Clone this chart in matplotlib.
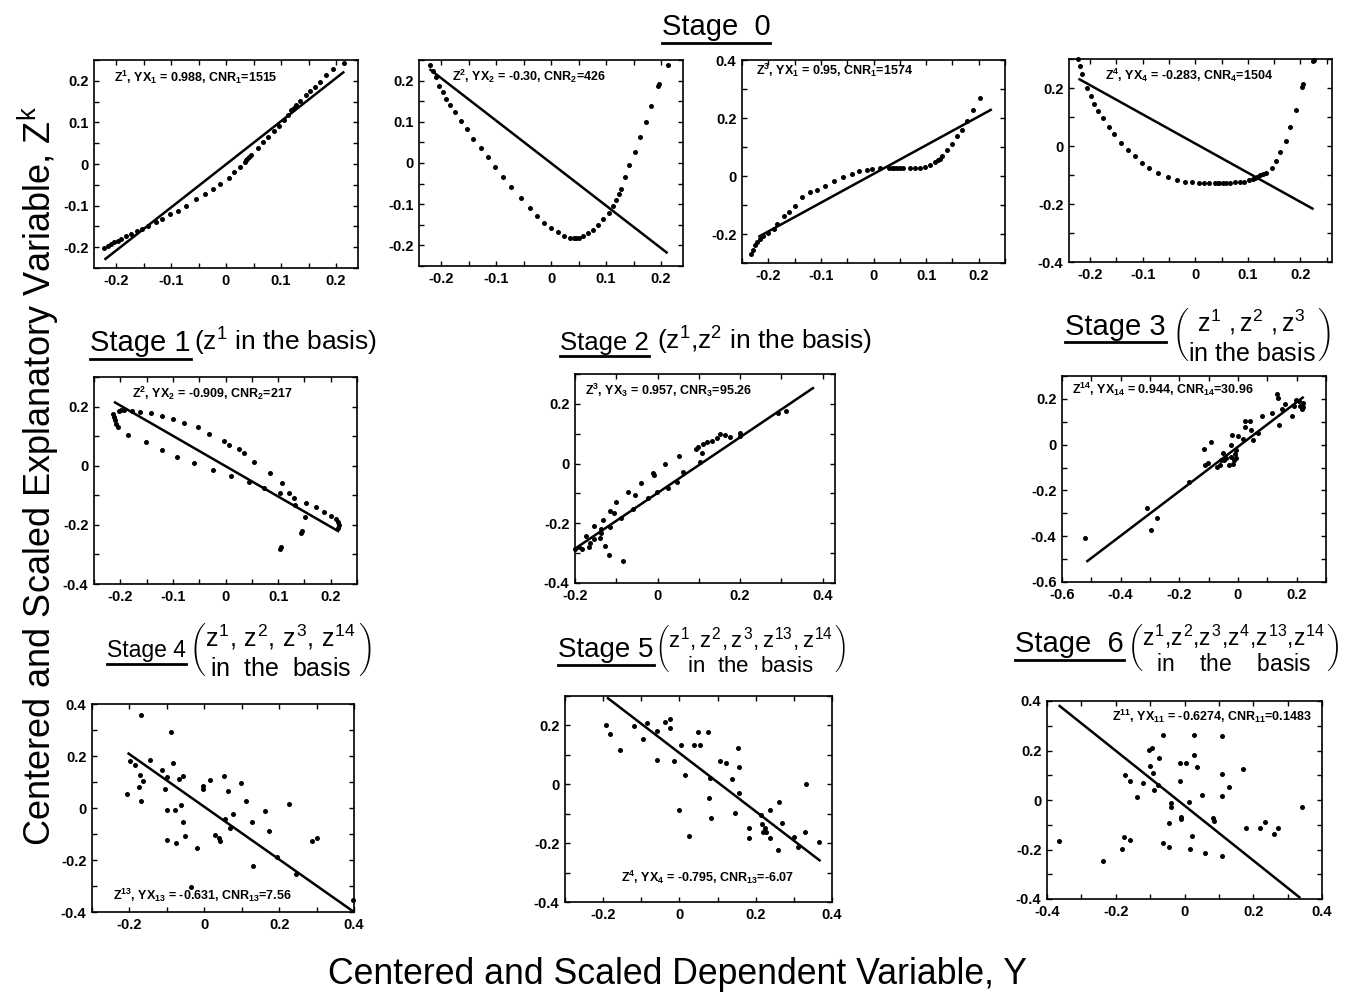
import numpy as np
import matplotlib
matplotlib.use('Agg')
import matplotlib.pyplot as plt
from matplotlib.ticker import MultipleLocator, FuncFormatter
from matplotlib.lines import Line2D

plt.rcParams['font.family'] = ['Liberation Sans', 'DejaVu Sans']
plt.rcParams['mathtext.fontset'] = 'custom'
plt.rcParams['mathtext.rm'] = 'Liberation Sans'
plt.rcParams['mathtext.it'] = 'Liberation Sans'
plt.rcParams['mathtext.bf'] = 'Liberation Sans:bold'
plt.rcParams['axes.unicode_minus'] = False

# ---------------- data ----------------
p1_x = [-0.221,-0.215,-0.209,-0.203,-0.197,-0.191,-0.182,-0.173,-0.162,-0.152,-0.142,-0.128,-0.116,-0.102,-0.088,-0.072,-0.054,-0.039,-0.024,-0.011,0.005,0.014,0.026,0.035,0.036,0.039,0.042,0.045,0.059,0.068,0.077,0.087,0.096,0.105,0.113,0.119,0.122,0.125,0.128,0.134,0.145,0.153,0.161,0.170,0.182,0.195,0.214]
p1_y = [-0.202,-0.196,-0.192,-0.188,-0.184,-0.180,-0.174,-0.169,-0.162,-0.156,-0.148,-0.140,-0.132,-0.121,-0.113,-0.100,-0.085,-0.073,-0.059,-0.047,-0.033,-0.019,-0.007,0.006,0.009,0.013,0.017,0.022,0.039,0.053,0.065,0.079,0.092,0.105,0.117,0.129,0.133,0.137,0.141,0.151,0.165,0.175,0.186,0.196,0.214,0.228,0.242]
p1_lx = [-0.221, 0.215]
p1_ly = [-0.230, 0.222]

p2_x = [-0.220,-0.215,-0.209,-0.203,-0.197,-0.191,-0.184,-0.174,-0.164,-0.153,-0.141,-0.128,-0.115,-0.102,-0.088,-0.072,-0.055,-0.039,-0.025,-0.013,0.000,0.013,0.023,0.035,0.041,0.045,0.050,0.059,0.068,0.077,0.086,0.095,0.105,0.112,0.118,0.123,0.127,0.135,0.142,0.152,0.162,0.172,0.182,0.195,0.196,0.213]
p2_y = [0.238,0.224,0.208,0.188,0.172,0.155,0.141,0.123,0.102,0.082,0.059,0.037,0.015,-0.009,-0.033,-0.059,-0.086,-0.109,-0.128,-0.146,-0.158,-0.168,-0.176,-0.182,-0.183,-0.183,-0.183,-0.178,-0.170,-0.162,-0.150,-0.137,-0.121,-0.105,-0.089,-0.076,-0.063,-0.033,-0.006,0.027,0.062,0.100,0.139,0.188,0.192,0.239]
p2_lx = [-0.221, 0.212]
p2_ly = [0.228, -0.219]

p3_x = [-0.232,-0.229,-0.225,-0.222,-0.216,-0.210,-0.200,-0.190,-0.183,-0.171,-0.160,-0.149,-0.135,-0.121,-0.107,-0.092,-0.076,-0.058,-0.041,-0.027,-0.013,-0.003,0.013,0.029,0.035,0.039,0.044,0.050,0.057,0.070,0.079,0.089,0.098,0.108,0.117,0.122,0.126,0.130,0.140,0.149,0.159,0.168,0.178,0.189,0.202]
p3_y = [-0.270,-0.256,-0.239,-0.228,-0.216,-0.208,-0.197,-0.182,-0.164,-0.139,-0.124,-0.105,-0.072,-0.055,-0.047,-0.036,-0.017,-0.003,0.008,0.016,0.022,0.024,0.026,0.029,0.029,0.028,0.028,0.028,0.028,0.028,0.028,0.028,0.031,0.038,0.048,0.054,0.060,0.068,0.089,0.109,0.138,0.160,0.190,0.226,0.270]
p3_lx = [-0.219, 0.225]
p3_ly = [-0.210, 0.230]

p4_x = [-0.222,-0.219,-0.216,-0.206,-0.198,-0.192,-0.184,-0.175,-0.164,-0.154,-0.141,-0.128,-0.115,-0.101,-0.087,-0.070,-0.052,-0.035,-0.020,-0.007,0.008,0.017,0.027,0.037,0.043,0.046,0.052,0.058,0.066,0.075,0.085,0.093,0.102,0.109,0.113,0.118,0.123,0.128,0.134,0.145,0.153,0.162,0.172,0.181,0.192,0.203,0.205,0.224,0.225]
p4_y = [0.299,0.276,0.249,0.199,0.172,0.146,0.121,0.095,0.067,0.040,0.011,-0.015,-0.034,-0.057,-0.077,-0.092,-0.107,-0.117,-0.123,-0.124,-0.126,-0.126,-0.126,-0.126,-0.126,-0.126,-0.126,-0.126,-0.126,-0.125,-0.125,-0.124,-0.118,-0.113,-0.109,-0.106,-0.101,-0.095,-0.092,-0.077,-0.052,-0.020,0.017,0.066,0.123,0.203,0.213,0.292,0.298]
p4_lx = [-0.222, 0.225]
p4_ly = [0.232, -0.218]

p5_x = [-0.214,-0.212,-0.210,-0.208,-0.204,-0.202,-0.198,-0.193,-0.185,-0.177,-0.163,-0.152,-0.142,-0.121,-0.121,-0.100,-0.093,-0.078,-0.059,-0.053,-0.031,-0.024,-0.003,0.007,0.011,0.025,0.036,0.044,0.054,0.074,0.085,0.104,0.108,0.121,0.131,0.133,0.104,0.106,0.144,0.146,0.152,0.153,0.172,0.188,0.201,0.211,0.214,0.216,0.214]
p5_y = [0.175,0.166,0.154,0.141,0.130,0.186,0.190,0.188,0.104,0.186,0.183,0.079,0.177,0.168,0.053,0.157,0.030,0.145,0.008,0.130,0.107,-0.015,0.085,0.070,-0.034,0.055,0.042,-0.056,0.014,-0.077,-0.023,-0.091,-0.057,-0.091,-0.110,-0.133,-0.281,-0.276,-0.226,-0.220,-0.175,-0.125,-0.141,-0.155,-0.170,-0.181,-0.189,-0.201,-0.212]
p5_lx = [-0.212, 0.216]
p5_ly = [0.216, -0.223]

p6_x = [-0.199,-0.191,-0.182,-0.173,-0.166,-0.163,-0.155,-0.153,-0.140,-0.138,-0.132,-0.128,-0.118,-0.116,-0.114,-0.106,-0.100,-0.088,-0.084,-0.071,-0.059,-0.055,-0.039,-0.023,-0.012,-0.009,-0.002,0.019,0.026,0.048,0.053,0.062,0.093,0.099,0.103,0.107,0.111,0.119,0.131,0.144,0.152,0.164,0.175,0.200,0.200,0.293,0.312,-0.136]
p6_y = [-0.286,-0.279,-0.286,-0.243,-0.279,-0.265,-0.209,-0.254,-0.249,-0.234,-0.189,-0.277,-0.305,-0.212,-0.159,-0.167,-0.129,-0.181,-0.327,-0.095,-0.151,-0.106,-0.064,-0.114,-0.032,-0.038,-0.095,-0.002,-0.081,-0.062,0.026,-0.028,0.048,0.057,0.006,0.035,0.065,0.073,0.076,0.084,0.099,0.095,0.090,0.102,0.093,0.168,0.176,-0.218]
p6_lx = [-0.201, 0.379]
p6_ly = [-0.286, 0.255]

p7_x = [-0.521,-0.310,-0.297,-0.276,-0.167,-0.115,-0.113,-0.101,-0.092,-0.071,-0.063,-0.057,-0.052,-0.048,-0.040,-0.032,-0.025,-0.023,-0.021,-0.017,-0.014,-0.011,-0.008,-0.006,0.000,0.017,0.023,0.025,0.040,0.046,0.052,0.069,0.083,0.115,0.132,0.136,0.140,0.149,0.159,0.184,0.190,0.198,0.207,0.213,0.218,0.221,0.223]
p7_y = [-0.406,-0.277,-0.372,-0.320,-0.161,-0.017,-0.091,-0.082,0.012,-0.097,-0.089,-0.069,-0.036,-0.065,-0.058,-0.089,-0.055,-0.003,0.043,-0.084,-0.065,-0.040,-0.022,-0.058,0.036,0.026,0.075,0.104,0.104,0.065,0.022,0.050,0.127,0.140,0.223,0.202,0.084,0.156,0.176,0.127,0.170,0.195,0.190,0.170,0.156,0.183,0.166]
p7_lx = [-0.517, 0.224]
p7_ly = [-0.512, 0.209]

p8_x = [-0.207,-0.199,-0.186,-0.171,-0.174,-0.170,-0.165,-0.168,-0.145,-0.114,-0.105,-0.100,-0.099,-0.099,-0.090,-0.083,-0.079,-0.076,-0.068,-0.063,-0.056,-0.057,-0.052,-0.020,-0.035,-0.004,-0.004,0.014,0.028,0.039,0.043,0.052,0.055,0.063,0.070,0.077,0.099,0.112,0.128,0.130,0.163,0.174,0.194,0.227,0.245,0.288,0.301,0.397]
p8_y = [0.055,0.180,0.164,0.128,0.081,0.358,0.102,0.026,0.185,0.148,0.072,0.119,-0.006,-0.124,0.294,0.173,-0.006,-0.134,0.113,0.010,0.125,-0.054,-0.106,-0.153,-0.303,0.083,0.072,0.109,-0.102,-0.114,-0.127,0.123,-0.043,0.065,-0.077,-0.022,0.097,0.027,-0.055,-0.223,-0.013,-0.090,-0.188,0.017,-0.252,-0.128,-0.115,-0.354]
p8_lx = [-0.205, 0.398]
p8_ly = [0.212, -0.398]

p9_x = [-0.193,-0.181,-0.155,-0.119,-0.096,-0.084,-0.059,-0.059,-0.039,-0.024,-0.024,-0.013,0.003,0.000,0.015,0.026,0.037,0.048,0.055,0.074,0.077,0.081,0.084,0.106,0.122,0.139,0.145,0.154,0.157,0.157,0.183,0.183,0.213,0.217,0.219,0.224,0.226,0.237,0.237,0.259,0.261,0.268,0.301,0.311,0.330,0.333,0.365]
p9_y = [0.200,0.171,0.118,0.197,0.155,0.208,0.182,0.082,0.212,0.223,0.191,0.079,0.135,-0.087,0.032,-0.177,0.133,0.178,0.133,0.178,-0.047,0.020,-0.113,0.079,0.073,0.017,-0.099,0.124,0.059,-0.028,-0.150,-0.184,-0.104,-0.135,-0.161,-0.149,-0.163,-0.182,-0.088,-0.223,-0.059,-0.132,-0.180,-0.214,-0.163,0.000,-0.197]
p9_lx = [-0.190, 0.370]
p9_ly = [0.295, -0.261]

p10_x = [-0.366,-0.237,-0.182,-0.177,-0.174,-0.159,-0.158,-0.138,-0.121,-0.104,-0.099,-0.095,-0.093,-0.090,-0.078,-0.075,-0.064,-0.064,-0.046,-0.046,-0.039,-0.039,-0.014,-0.014,-0.009,-0.009,0.005,0.012,0.017,0.022,0.027,0.027,0.036,0.051,0.061,0.083,0.085,0.110,0.110,0.110,0.110,0.130,0.170,0.180,0.221,0.235,0.261,0.271,0.342]
p10_y = [-0.164,-0.248,-0.197,-0.148,0.103,-0.161,0.078,0.013,0.067,0.201,0.137,0.211,0.110,0.040,0.060,0.168,-0.174,0.262,-0.094,-0.188,-0.013,-0.027,0.078,0.150,-0.067,-0.078,0.148,-0.009,-0.199,-0.145,0.181,0.262,0.134,0.020,-0.215,-0.074,-0.083,0.105,0.016,-0.228,0.258,0.051,0.125,-0.114,-0.114,-0.090,-0.137,-0.114,-0.027]
p10_lx = [-0.366, 0.337]
p10_ly = [0.383, -0.396]

# ---------------- figure ----------------
W, H = 1353, 994
fig = plt.figure(figsize=(W / 100, H / 100), dpi=100)
fig.patch.set_facecolor('white')


def fx(px):
    return px / W


def fy(py):
    return 1 - py / H


def ax_at(x0, y0, x1, y1):
    return fig.add_axes([x0 / W, 1 - y1 / H, (x1 - x0) / W, (y1 - y0) / H])


def fmt(v, p):
    v = round(v, 3) + 0.0
    if abs(v) < 1e-9:
        return "0"
    return f"{v:g}"


def annot(z, yx, val, cnr, cval):
    return ("Z" + r"$^{\mathbf{" + z + "}}$" + ", YX" + r"$_{\mathbf{" + yx + "}}$"
            + " = " + val + ", CNR" + r"$_{\mathbf{" + cnr + "}}$" + "=" + cval)


panels = [
    dict(box=(94, 60, 358, 268), xlim=(-0.24, 0.24), ylim=(-0.25, 0.25), xt=(0.1, 0.05), yt=(0.1, 0.05),
         x=p1_x, y=p1_y, lx=p1_lx, ly=p1_ly, txt=annot("1", "1", "0.988", "1", "1515"), tp=(0.075, 0.915)),
    dict(box=(419, 60, 683, 266), xlim=(-0.24, 0.24), ylim=(-0.25, 0.25), xt=(0.1, 0.05), yt=(0.1, 0.05),
         x=p2_x, y=p2_y, lx=p2_lx, ly=p2_ly, txt=annot("2", "2", "-0.30", "2", "426"), tp=(0.125, 0.92)),
    dict(box=(742, 60, 1005, 263), xlim=(-0.25, 0.25), ylim=(-0.3, 0.4), xt=(0.1, 0.05), yt=(0.2, 0.1),
         x=p3_x, y=p3_y, lx=p3_lx, ly=p3_ly, txt=annot("3", "1", "0.95", "1", "1574"), tp=(0.055, 0.95)),
    dict(box=(1069, 59, 1332, 262), xlim=(-0.24, 0.26), ylim=(-0.4, 0.3), xt=(0.1, 0.05), yt=(0.2, 0.1),
         x=p4_x, y=p4_y, lx=p4_lx, ly=p4_ly, txt=annot("4", "4", "-0.283", "4", "1504"), tp=(0.135, 0.92)),
    dict(box=(94, 377, 357, 584), xlim=(-0.25, 0.25), ylim=(-0.4, 0.3), xt=(0.1, 0.05), yt=(0.2, 0.1),
         x=p5_x, y=p5_y, lx=p5_lx, ly=p5_ly, txt=annot("2", "2", "-0.909", "2", "217"), tp=(0.145, 0.923)),
    dict(box=(575, 374, 835, 583), xlim=(-0.2, 0.43), ylim=(-0.4, 0.3), xt=(0.2, 0.1), yt=(0.2, 0.1),
         x=p6_x, y=p6_y, lx=p6_lx, ly=p6_ly, txt=annot("3", "3", "0.957", "3", "95.26"), tp=(0.04, 0.92)),
    dict(box=(1062, 376, 1326, 582), xlim=(-0.6, 0.3), ylim=(-0.6, 0.3), xt=(0.2, 0.1), yt=(0.2, 0.1),
         x=p7_x, y=p7_y, lx=p7_lx, ly=p7_ly, txt=annot("14", "14", "0.944", "14", "30.96"), tp=(0.038, 0.937)),
    dict(box=(92, 704, 354, 912), xlim=(-0.3, 0.4), ylim=(-0.4, 0.4), xt=(0.2, 0.1), yt=(0.2, 0.1),
         x=p8_x, y=p8_y, lx=p8_lx, ly=p8_ly, txt=annot("13", "13", "-0.631", "13", "7.56"), tp=(0.08, 0.08)),
    dict(box=(565, 696, 832, 902), xlim=(-0.3, 0.4), ylim=(-0.4, 0.3), xt=(0.2, 0.1), yt=(0.2, 0.1),
         x=p9_x, y=p9_y, lx=p9_lx, ly=p9_ly, txt=annot("4", "4", "-0.795", "13", "-6.07"), tp=(0.21, 0.12)),
    dict(box=(1047, 701, 1322, 899), xlim=(-0.4, 0.4), ylim=(-0.4, 0.4), xt=(0.2, 0.1), yt=(0.2, 0.1),
         x=p10_x, y=p10_y, lx=p10_lx, ly=p10_ly, txt=annot("11", "11", "-0.6274", "11", "0.1483"), tp=(0.235, 0.92)),
]

for P in panels:
    ax = ax_at(*P['box'])
    ax.set_xlim(*P['xlim'])
    ax.set_ylim(*P['ylim'])
    ax.xaxis.set_major_locator(MultipleLocator(P['xt'][0]))
    ax.xaxis.set_minor_locator(MultipleLocator(P['xt'][1]))
    ax.yaxis.set_major_locator(MultipleLocator(P['yt'][0]))
    ax.yaxis.set_minor_locator(MultipleLocator(P['yt'][1]))
    ax.xaxis.set_major_formatter(FuncFormatter(fmt))
    ax.yaxis.set_major_formatter(FuncFormatter(fmt))
    ax.tick_params(which='both', direction='in', top=True, right=True, length=3.5, width=1.0,
                   labelsize=10.5)
    ax.tick_params(axis='x', which='both', pad=4.5)
    ax.tick_params(axis='y', which='both', pad=4)
    for lab in ax.get_xticklabels() + ax.get_yticklabels():
        lab.set_fontweight('bold')
    for s in ax.spines.values():
        s.set_linewidth(1.2)
    ax.plot(P['lx'], P['ly'], color='black', lw=1.8, solid_capstyle='butt')
    ax.plot(P['x'], P['y'], 'o', color='black', ms=3.6, mew=0, clip_on=False)
    ax.text(P['tp'][0], P['tp'][1], P['txt'], transform=ax.transAxes, fontsize=9,
            fontweight='bold', ha='left', va='center')

# ---------------- headers ----------------
underlined = []


def stage(px, py, s, size, ha='left'):
    t = fig.text(fx(px), fy(py), s, fontsize=size, ha=ha, va='baseline')
    underlined.append(t)
    return t


stage(716, 35, "Stage  0", 21, ha='center')

stage(90, 351, "Stage 1", 21)
fig.text(fx(194), fy(351), r"(z$^1$ in the basis)", fontsize=19, ha='left', va='baseline')

stage(560, 350, "Stage 2", 18.5)
fig.text(fx(657), fy(350), r"(z$^1$,z$^2$ in the basis)", fontsize=19, ha='left', va='baseline')

stage(1065, 335, "Stage 3", 21)
fig.text(fx(1172), fy(335),
         r"$\genfrac{(}{)}{0}{0}{z^{1}\ ,z^{2}\ ,z^{3}}{\mathrm{in\ the\ basis}}$",
         fontsize=18, ha='left', va='center')

stage(107, 657, "Stage 4", 16.5)
fig.text(fx(189), fy(649),
         r"$\genfrac{(}{)}{0}{0}{z^{1},\,z^{2},\,z^{3},\,z^{14}}{\mathrm{in\ \ the\ \ basis}}$",
         fontsize=18, ha='left', va='center')

stage(558, 657, "Stage 5", 20)
fig.text(fx(655), fy(648),
         r"$\genfrac{(}{)}{0}{0}{z^{1},z^{2},z^{3},z^{13},z^{14}}{\mathrm{in\ \ the\ \ basis}}$",
         fontsize=16, ha='left', va='center')

stage(1015, 652, "Stage  6", 21)
fig.text(fx(1127), fy(648),
         r"$\genfrac{(}{)}{0}{0}{z^{1}{,}z^{2}{,}z^{3}{,}z^{4}{,}z^{13}{,}z^{14}}{\mathrm{in\quad\ the\quad\ basis}}$",
         fontsize=16.5, ha='left', va='center')

# axis titles
fig.text(fx(38), fy(476), r"Centered and Scaled Explanatory Variable, Z$^{\mathrm{k}}$",
         rotation=90, fontsize=26, ha='center', va='center')
fig.text(fx(677), fy(975), "Centered and Scaled Dependent Variable, Y",
         fontsize=25.7, ha='center', va='center')

# underlines
fig.canvas.draw()
r = fig.canvas.get_renderer()
inv = fig.transFigure.inverted()
for t in underlined:
    bb = t.get_window_extent(r)
    (x0, y0) = inv.transform((bb.x0, bb.y0 - 1.5))
    (x1, _) = inv.transform((bb.x1, bb.y0 - 1.5))
    fig.add_artist(Line2D([x0, x1], [y0, y0], transform=fig.transFigure, color='black', lw=2.0))

fig.savefig("out.png", dpi=100, facecolor='white')
